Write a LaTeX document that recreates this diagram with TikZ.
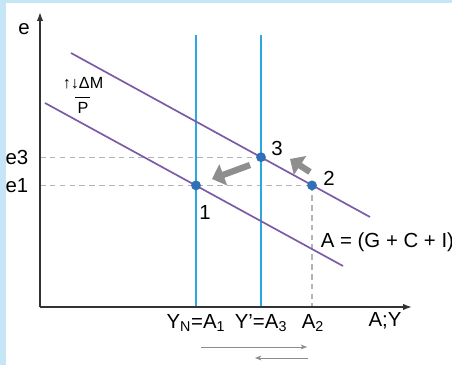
\documentclass[tikz,border=0pt]{standalone}
\usepackage{fontspec}
\setmainfont{Liberation Sans}
\usetikzlibrary{arrows.meta}
\definecolor{bgblue}{HTML}{C6E6F8}
\definecolor{linecyan}{HTML}{2BA8E0}
\definecolor{curvepurple}{HTML}{7B5BA6}
\definecolor{dotblue}{HTML}{3070B8}
\definecolor{dashgray}{HTML}{B4B4B4}
\definecolor{shiftgray}{HTML}{8E8E8E}
\tikzset{
  axis/.style={line width=1.1pt, draw=black!80, -{Latex[length=2.2mm,width=1.6mm]}},
  vline/.style={line width=1.4pt, draw=linecyan},
  schedule/.style={line width=1.2pt, draw=curvepurple},
  guide/.style={line width=0.9pt, draw=dashgray, dash pattern=on 4pt off 3pt},
  eqpoint/.style={circle, fill=dotblue, inner sep=0pt, minimum size=7pt},
  shiftarrow/.style={line width=4.5pt, draw=shiftgray, -{Triangle[length=3mm,width=5.5mm]}},
  move/.style={line width=0.4pt, draw=black!45, -{Stealth[length=1.6mm,width=1.2mm]}},
  lbl/.style={font=\fontsize{14.5}{17}\selectfont, inner sep=1pt},
}
\begin{document}
\begin{tikzpicture}
\useasboundingbox (0,0) rectangle (11.3,9.125);
\fill[bgblue] (0,0) rectangle (11.3,9.125);
\fill[white] (0.15,0) rectangle (11.3,9.05);
\coordinate (O) at (1.0,1.45);
\coordinate (ytop) at (1.0,8.825);
\coordinate (xend) at (10.3,1.45);
\coordinate (n1top) at (4.9,8.25);
\coordinate (n1bot) at (4.9,1.45);
\coordinate (n3top) at (6.525,8.25);
\coordinate (n3bot) at (6.525,1.45);
\coordinate (up1) at (1.775,7.8);
\coordinate (up2) at (9.25,3.7);
\coordinate (lo1) at (1.125,6.55);
\coordinate (lo2) at (8.575,2.475);
\coordinate (e3l) at (1.0,5.195);
\coordinate (e1l) at (1.0,4.49);
\coordinate (a2bot) at (7.8,1.45);
\draw[guide] (e3l) -- (6.525,5.195);
\draw[guide] (e1l) -- (7.8,4.49);
\draw[guide] (7.8,4.49) -- (a2bot);
\draw[vline] (n1bot) -- (n1top);
\draw[vline] (n3bot) -- (n3top);
\draw[schedule] (up1) -- (up2);
\draw[schedule] (lo1) -- (lo2);
\draw[axis] (O) -- (ytop);
\draw[axis] (O) -- (xend);
\node[eqpoint] (p1) at (4.9,4.49) {};
\node[eqpoint] (p3) at (6.525,5.195) {};
\node[eqpoint] (p2) at (7.8,4.49) {};
\node[lbl] (l1) at (5.125,3.825) {1};
\node[lbl] (l3) at (6.925,5.425) {3};
\node[lbl] (l2) at (8.225,4.675) {2};
\coordinate (s1a) at (6.25,5.0);
\coordinate (s1b) at (5.3,4.65);
\coordinate (s2a) at (7.75,4.825);
\coordinate (s2b) at (7.25,5.15);
\draw[shiftarrow] (s1a) -- (s1b);
\draw[shiftarrow] (s2a) -- (s2b);
\node[lbl] (e) at (0.6,8.4) {e};
\node[lbl, anchor=east] (e3) at (0.75,5.195) {e3};
\node[lbl, anchor=east] (e1) at (0.75,4.49) {e1};
\node[lbl, font=\fontsize{11.5}{13}\selectfont] (dm) at (2.075,7.05) {↑↓ΔM};
\node[lbl, font=\fontsize{11.5}{13}\selectfont] (pp) at (2.075,6.42) {P};
\draw[line width=0.8pt] (1.875,6.68) -- (2.25,6.68);
\node[lbl, anchor=west] (agg) at (7.98,3.075) {A = (G + C + I)};
\node[lbl] (x1) at (4.9,1.05) {Y\textsubscript{N}=A\textsubscript{1}};
\node[lbl] (x3) at (6.525,1.05) {Y’=A\textsubscript{3}};
\node[lbl] (x2) at (7.825,1.05) {A\textsubscript{2}};
\node[lbl] (xl) at (9.625,1.1) {A;Y};
\coordinate (m1a) at (5.025,0.45);
\coordinate (m1b) at (7.675,0.45);
\coordinate (m2a) at (7.7,0.175);
\coordinate (m2b) at (6.375,0.175);
\draw[move] (m1a) -- (m1b);
\draw[move] (m2a) -- (m2b);
\end{tikzpicture}
\end{document}
